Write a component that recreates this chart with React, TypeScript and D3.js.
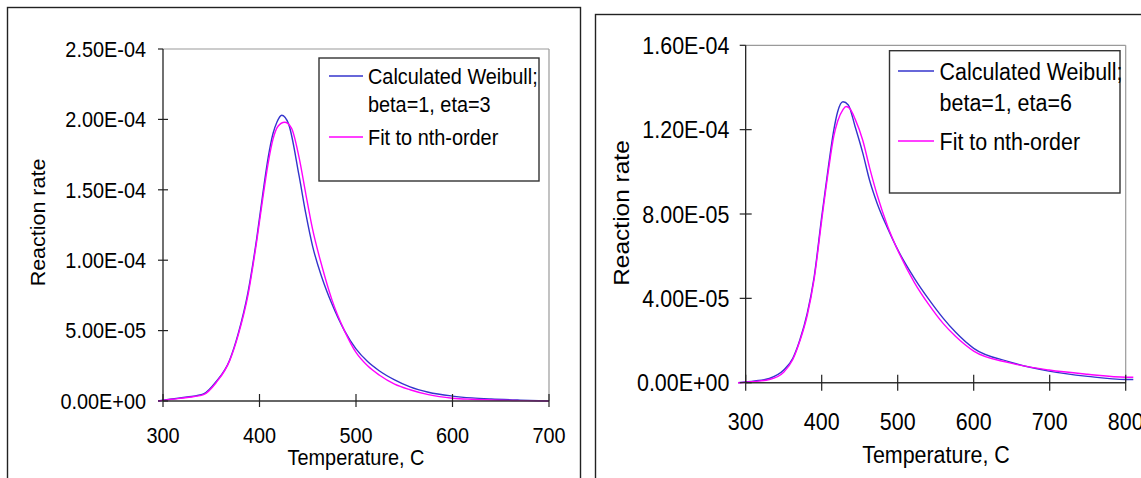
import React from 'react'
import * as d3 from 'd3'

// left chart: beta=1, eta=3
const tempLeftWeibull = [295, 309, 325, 342, 355, 369, 378, 388, 397, 403, 409, 414, 418, 423, 430, 441, 448, 455, 465, 475, 488, 500, 512, 524, 540, 556, 575, 600, 620, 640, 670, 700]
const rateLeftWeibull = [0, 0.14e-5, 0.28e-5, 0.5e-5, 1.37e-5, 2.9e-5, 4.8e-5, 7.7e-5, 11.5e-5, 14.5e-5, 17.3e-5, 19.0e-5, 19.8e-5, 20.3e-5, 19.7e-5, 16.0e-5, 13.3e-5, 11.0e-5, 8.7e-5, 6.9e-5, 5.0e-5, 3.7e-5, 2.8e-5, 2.15e-5, 1.5e-5, 1.0e-5, 0.62e-5, 0.35e-5, 0.22e-5, 0.14e-5, 0.06e-5, 0]
const tempLeftFit = [295, 309, 325, 342, 355, 369, 378, 388, 397, 403, 409, 414, 419, 426, 433, 441, 448, 455, 465, 475, 488, 500, 512, 524, 540, 556, 575, 600, 620, 640, 670, 700]
const rateLeftFit = [0, 0.12e-5, 0.25e-5, 0.45e-5, 1.3e-5, 2.85e-5, 4.7e-5, 7.5e-5, 11.3e-5, 14.2e-5, 16.9e-5, 18.6e-5, 19.5e-5, 19.8e-5, 19.4e-5, 17.3e-5, 14.7e-5, 12.2e-5, 9.5e-5, 7.2e-5, 5.0e-5, 3.45e-5, 2.5e-5, 1.85e-5, 1.2e-5, 0.8e-5, 0.45e-5, 0.2e-5, 0.12e-5, 0.07e-5, 0.03e-5, 0]

// right chart: beta=1, eta=6
const tempRightWeibull = [290, 312, 331, 350, 362, 371, 381, 390, 400, 409, 416, 421, 428, 435, 444, 454, 463, 473, 487, 498, 522, 541, 560, 576, 600, 646, 699, 750, 800, 810]
const rateRightWeibull = [0, 0.08e-5, 0.2e-5, 0.6e-5, 1.16e-5, 2.0e-5, 3.3e-5, 5.0e-5, 7.87e-5, 10.3e-5, 12.0e-5, 12.85e-5, 13.32e-5, 13.17e-5, 12.14e-5, 10.9e-5, 9.6e-5, 8.5e-5, 7.3e-5, 6.45e-5, 4.95e-5, 3.95e-5, 3.05e-5, 2.4e-5, 1.63e-5, 1.0e-5, 0.55e-5, 0.3e-5, 0.15e-5, 0.15e-5]
const tempRightFit = [290, 312, 331, 350, 362, 371, 381, 390, 400, 409, 416, 421, 428, 432, 437, 444, 454, 463, 473, 487, 498, 522, 541, 560, 576, 600, 646, 699, 750, 800, 810]
const rateRightFit = [0, 0.06e-5, 0.15e-5, 0.5e-5, 1.1e-5, 1.95e-5, 3.2e-5, 4.9e-5, 7.7e-5, 10.1e-5, 11.7e-5, 12.4e-5, 12.95e-5, 13.1e-5, 13.0e-5, 12.5e-5, 11.5e-5, 10.2e-5, 8.9e-5, 7.4e-5, 6.45e-5, 4.75e-5, 3.7e-5, 2.8e-5, 2.2e-5, 1.5e-5, 0.95e-5, 0.6e-5, 0.4e-5, 0.26e-5, 0.26e-5]

const xTicksLeft = [300, 400, 500, 600, 700]
const yTicksLeft = [0, 5e-5, 1e-4, 1.5e-4, 2e-4, 2.5e-4]
const xTicksRight = [300, 400, 500, 600, 700, 800]
const yTicksRight = [0, 4e-5, 8e-5, 1.2e-4, 1.6e-4]

const legendLeft = ['Calculated Weibull;', 'beta=1, eta=3', 'Fit to nth-order']
const legendRight = ['Calculated Weibull;', 'beta=1, eta=6', 'Fit to nth-order']

const xTitle = 'Temperature, C'
const yTitle = 'Reaction rate'

const BLUE = '#3434cc'
const PINK = '#ff00ff'
const FONT = '"Liberation Sans", Arial, sans-serif'

// 2.50E-04 style
const fmtExp = (v: number) => {
  const [m, e] = v.toExponential(2).toUpperCase().split('E')
  const sign = e[0] === '-' ? '-' : '+'
  const digits = e.replace(/[+-]/, '').padStart(2, '0')
  return `${m}E${sign}${digits}`
}

const Txt = ({ x, y, sx, fs, anchor = 'start', children }: any) => (
  <text
    transform={`translate(${x},${y}) scale(${sx},1)`}
    fontSize={fs}
    fontFamily={FONT}
    textAnchor={anchor}
    dominantBaseline="central"
    fill="#000"
  >
    {children}
  </text>
)

const Panel = ({ L, xDomain, yDomain, xTicks, yTicks, blue, pink, legend }: any) => {
  const x = d3.scaleLinear().domain(xDomain).range([L.x0, L.x1])
  const y = d3.scaleLinear().domain(yDomain).range([L.y1, L.y0])
  const line = d3.line<[number, number]>()
    .x(d => x(d[0]))
    .y(d => y(d[1]))
    .curve(d3.curveMonotoneX)
  const zip = (t: number[], r: number[]) => t.map((v, i) => [v, r[i]] as [number, number])

  return (
    <g>
      <rect x={L.fx} y={L.fy} width={L.fw} height={L.fh} fill="#fff" stroke="#222" strokeWidth={1.4} />
      {/* plot area border: gray top/right */}
      <line x1={L.x0} x2={L.x1} y1={L.y0} y2={L.y0} stroke="#9a9a9a" strokeWidth={1.2} />
      <line x1={L.x1} x2={L.x1} y1={L.y0} y2={L.y1} stroke="#9a9a9a" strokeWidth={1.2} />

      <path d={line(zip(blue[0], blue[1])) || ''} fill="none" stroke={BLUE} strokeWidth={1.4} />
      <path d={line(zip(pink[0], pink[1])) || ''} fill="none" stroke={PINK} strokeWidth={1.4} />

      {/* axes */}
      <line x1={L.x0} x2={L.x0} y1={L.y0} y2={L.y1} stroke="#111" strokeWidth={1.2} />
      <line x1={L.x0} x2={L.x1} y1={L.y1} y2={L.y1} stroke="#333" strokeWidth={1.4} />
      {xTicks.map((t: number) => (
        <g key={'x' + t}>
          <line x1={x(t)} x2={x(t)} y1={L.y1 - L.xtUp} y2={L.y1 + L.xtDown} stroke="#222" strokeWidth={1.2} />
          <Txt x={x(t)} y={L.xLabY} sx={L.sx} fs={L.fs} anchor="middle">{t}</Txt>
        </g>
      ))}
      {yTicks.map((t: number) => (
        <g key={'y' + t}>
          <line x1={L.x0 - L.yt} x2={L.x0 + (t === yDomain[1] ? 0 : L.yt)} y1={y(t)} y2={y(t)} stroke="#222" strokeWidth={1.2} />
          <Txt x={L.yLabX} y={y(t)} sx={L.sx} fs={L.fs} anchor="end">{fmtExp(t)}</Txt>
        </g>
      ))}

      <Txt x={L.xtX} y={L.xtY} sx={L.sx} fs={L.fs} anchor="middle">{xTitle}</Txt>
      <text
        transform={`translate(${L.ytX},${L.ytY}) rotate(-90) scale(1,${L.sx})`}
        fontSize={L.fs}
        fontFamily={FONT}
        textAnchor="middle"
        dominantBaseline="central"
      >
        {yTitle}
      </text>

      {/* legend */}
      <rect x={L.lx} y={L.ly} width={L.lw} height={L.lh} fill="#fff" stroke="#333" strokeWidth={1.4} />
      <line x1={L.ll0} x2={L.ll1} y1={L.rows[0]} y2={L.rows[0]} stroke={BLUE} strokeWidth={1.4} />
      <line x1={L.ll0} x2={L.ll1} y1={L.rows[2]} y2={L.rows[2]} stroke={PINK} strokeWidth={1.4} />
      {legend.map((s: string, i: number) => (
        <Txt key={s} x={L.ltx} y={L.rows[i]} sx={L.sx} fs={L.fs}>{s}</Txt>
      ))}
    </g>
  )
}

const leftLayout = {
  fx: 7.5, fy: 7.5, fw: 573, fh: 520,
  x0: 163, x1: 549, y0: 49, y1: 401,
  xtUp: 7, xtDown: 6, yt: 5,
  xLabY: 435, yLabX: 146,
  xtX: 356, xtY: 457, ytX: 37.5, ytY: 222.5,
  lx: 319, ly: 58, lw: 220, lh: 123,
  ll0: 329, ll1: 363, ltx: 368, rows: [76, 104, 137],
  fs: 21.5, sx: 0.925,
}

const rightLayout = {
  fx: 595.5, fy: 14.5, fw: 620, fh: 520,
  x0: 745.7, x1: 1125.7, y0: 45.3, y1: 382.7,
  xtUp: 8, xtDown: 8, yt: 6,
  xLabY: 421.7, yLabX: 729.3,
  xtX: 936, xtY: 454, ytX: 622, ytY: 213,
  lx: 889.5, ly: 50.7, lw: 230.5, lh: 142.3,
  ll0: 898, ll1: 934, ltx: 939.6, rows: [71, 102, 141],
  fs: 24.5, sx: 0.875,
}

export default function App() {
  return (
    <svg
      width={1141}
      height={478}
      style={{ position: 'absolute', left: 0, top: 0, background: '#fff' }}
    >
      <rect width={1141} height={478} fill="#fff" />
      <Panel
        L={leftLayout}
        xDomain={[300, 700]}
        yDomain={[0, 2.5e-4]}
        xTicks={xTicksLeft}
        yTicks={yTicksLeft}
        blue={[tempLeftWeibull, rateLeftWeibull]}
        pink={[tempLeftFit, rateLeftFit]}
        legend={legendLeft}
      />
      <Panel
        L={rightLayout}
        xDomain={[300, 800]}
        yDomain={[0, 1.6e-4]}
        xTicks={xTicksRight}
        yTicks={yTicksRight}
        blue={[tempRightWeibull, rateRightWeibull]}
        pink={[tempRightFit, rateRightFit]}
        legend={legendRight}
      />
    </svg>
  )
}
